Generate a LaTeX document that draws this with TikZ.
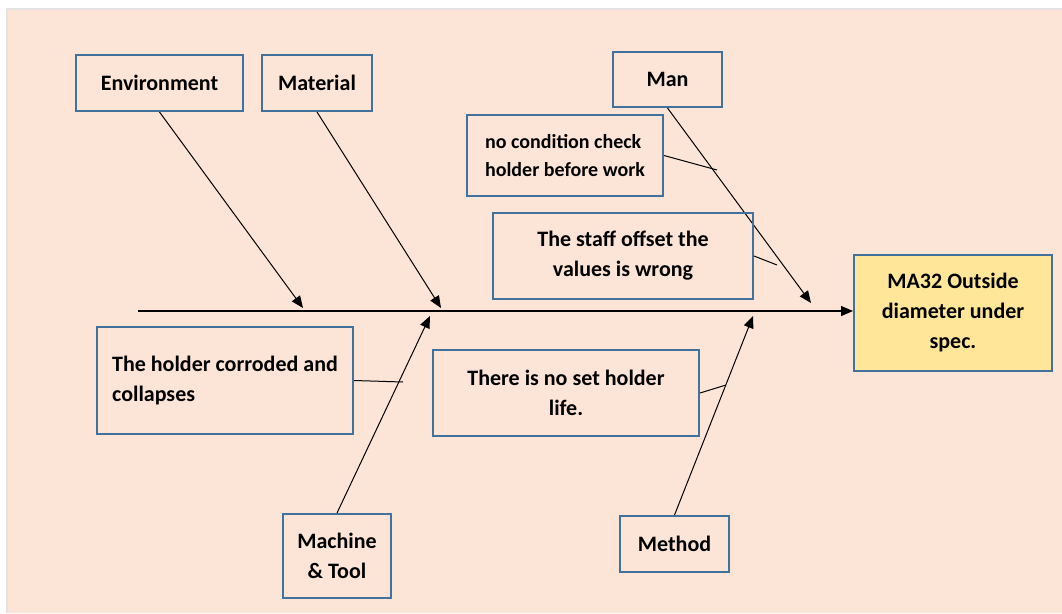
\documentclass[tikz,border=0pt]{standalone}
\usepackage{fontspec}
\setmainfont{Carlito}
\usetikzlibrary{arrows.meta}

\definecolor{peach}{HTML}{FCE4D6}
\definecolor{boxblue}{HTML}{41719C}
\definecolor{effectyellow}{HTML}{FFE699}
\definecolor{framegray}{HTML}{E3E3E3}

\begin{document}
\begin{tikzpicture}[x=1pt, y=-1pt,
    bone/.style={draw=boxblue, line width=2pt, align=center, inner sep=0pt,
      font=\fontsize{22}{30}\selectfont\bfseries},
    smallbone/.style={bone, font=\fontsize{20}{28}\selectfont\bfseries},
    cause/.style={-{Triangle[length=12pt,width=10pt]}, line width=1pt},
    twig/.style={line width=1pt}]
        \useasboundingbox (0,0) rectangle (1062,613);
        % background
        \fill[white] (0,0) rectangle (1062,613);
        \draw[framegray, line width=2pt] (7,613) -- (7,9) -- (1062,9);
        \fill[peach] (8,10) rectangle (1062,613);

        % effect and spine
        \node[bone, fill=effectyellow, minimum width=198pt, minimum height=116pt] (effect) at (953,313) {MA32 Outside\\diameter under\\spec.};
        \coordinate (spine) at (138,311);
        \draw[cause, line width=1.3pt] (spine) -- (effect.west |- spine);

        % Environment
        \node[bone, minimum width=167pt, minimum height=56pt] (env) at (159.5,83) {Environment};
        \coordinate (envtip) at (303,308);
        \draw[cause] (env.south) -- (envtip);

        % Material
        \node[bone, minimum width=110pt, minimum height=56pt] (mat) at (317,83) {Material};
        \coordinate (mattip) at (441,308);
        \draw[cause] (mat.south) -- (mattip);

        % Man
        \node[bone, minimum width=109pt, minimum height=55pt] (man) at (667.5,79.5) {Man};
        \coordinate (mantip) at (811,303);
        \draw[cause] (man.south) -- (mantip);
        \node[smallbone, align=left, minimum width=196pt, minimum height=81pt] (nocheck) at (565,155.5) {no condition check\\holder before work};
        \coordinate (nocheckend) at (717,170);
        \draw[twig] (nocheck.east) -- (nocheckend);
        \node[bone, minimum width=260pt, minimum height=86pt] (staff) at (623,256) {The staff offset the\\values is wrong};
        \coordinate (staffend) at (777,265);
        \draw[twig] (staff.east) -- (staffend);

        % Machine & Tool
        \node[bone, minimum width=108pt, minimum height=84pt] (machine) at (337,556) {Machine\\\& Tool};
        \coordinate (machtip) at (430,316);
        \draw[cause] (machine.north) -- (machtip);
        \node[bone, align=left, minimum width=256pt, minimum height=107pt] (corrode) at (225,380.5) {The holder corroded and\\collapses};
        \coordinate (corrodeend) at (403,382);
        \draw[twig] (corrode.east) -- (corrodeend);

        % Method
        \node[bone, minimum width=109pt, minimum height=56pt] (method) at (674.5,544) {Method};
        \coordinate (methtip) at (753,316);
        \draw[cause] (method.north) -- (methtip);
        \node[bone, minimum width=266pt, minimum height=86pt] (life) at (566,393) {There is no set holder\\life.};
        \coordinate (lifeend) at (726,385);
        \draw[twig] (life.east) -- (lifeend);
\end{tikzpicture}
\end{document}
